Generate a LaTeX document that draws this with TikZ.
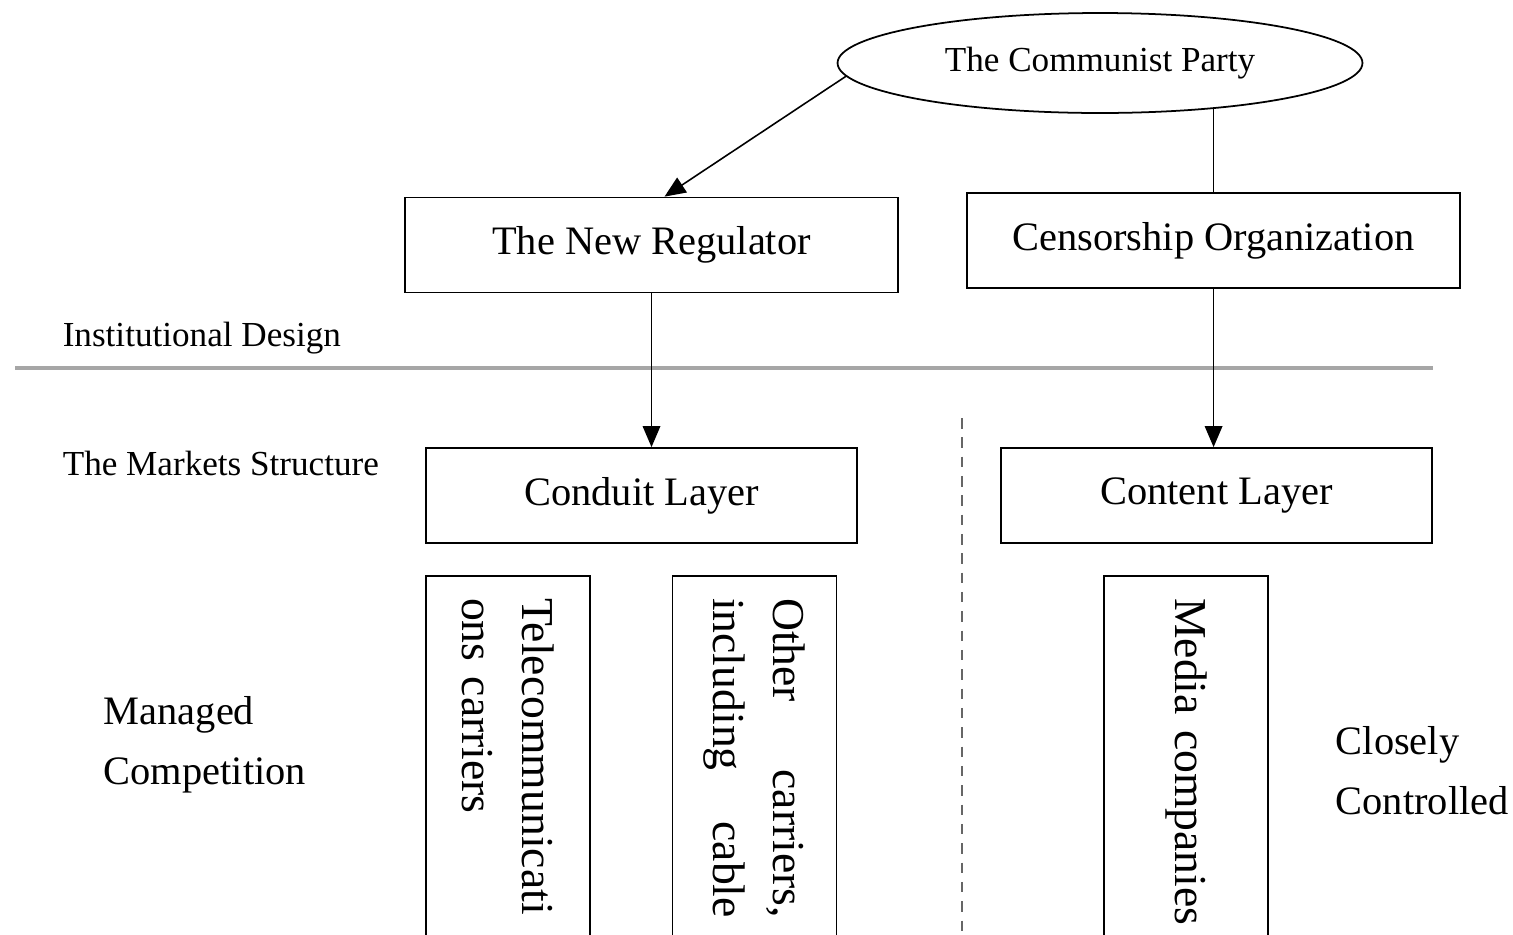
\documentclass[tikz,border=0pt]{standalone}
\usepackage{fontspec}
\setmainfont{Liberation Serif}
\usetikzlibrary{shapes.geometric,arrows.meta}
\begin{document}
\begin{tikzpicture}[x=0.02cm, y=-0.02cm, >={Triangle[length=12pt,width=10pt]}, line width=0.9pt,
	box/.style={draw, line width=1pt, minimum width=9.86cm, minimum height=1.9cm, font=\fontsize{23}{28}\selectfont},
	layer/.style={box, minimum width=8.62cm},
	firm/.style={draw, line width=1pt, rotate=-90, minimum width=7.28cm, minimum height=3.28cm, text width=182pt, align=left, font=\fontsize{26}{34}\selectfont},
	lbl/.style={inner sep=0pt, anchor=west, font=\fontsize{20}{24}\selectfont},
	side/.style={inner sep=0pt, anchor=west, align=left, font=\fontsize{23}{34}\selectfont}]
			\useasboundingbox (0,0) rectangle (1513,934);
			\clip (0,0) rectangle (1513,934);
			\node[draw, ellipse, line width=1pt, inner sep=0pt, minimum width=10.5cm, minimum height=2cm, font=\fontsize{20}{24}\selectfont] (party) at (1100,63) {The Communist Party};
			\node[box] (reg) at (651.5,245) {The New Regulator};
			\node[box] (cens) at (1213.5,240.5) {Censorship Organization};
			\node[layer] (conduit) at (641.5,495.5) {Conduit Layer};
			\node[layer] (content) at (1216.5,495.5) {Content Layer};
			\node[firm] (tele) at (508,758) {Telecommunicati\\ons carriers};
			\node[firm] (other) at (754.5,758) {Other\hfill carriers,\\including\hfill cable};
			\node[firm] (media) at (1186,758) {\mbox{Media companies}};
			\node[lbl] (inst) at (62,338) {Institutional Design};
			\node[lbl] (mkt) at (62,463) {The Markets Structure};
			\node[side] (managed) at (103,745) {Managed\\Competition};
			\node[side] (closely) at (1335,771) {Closely\\Controlled};
			% divider and connectors
			\draw[gray!70, line width=1.8pt] (15,368) -- (1433,368);
			\draw[gray!80!black, line width=0.8pt, dash pattern=on 6pt off 5pt] (962,418) -- (962,934);
			\draw[->] (party.183) -- ([xshift=0.26cm]reg.north);
			\draw (party.-22) -- (party.-22 |- cens.north);
			\draw[->] (reg.south) -- (reg.south |- conduit.north);
			\draw[->] (party.-22 |- cens.south) -- (party.-22 |- content.north);
		\end{tikzpicture}
\end{document}
